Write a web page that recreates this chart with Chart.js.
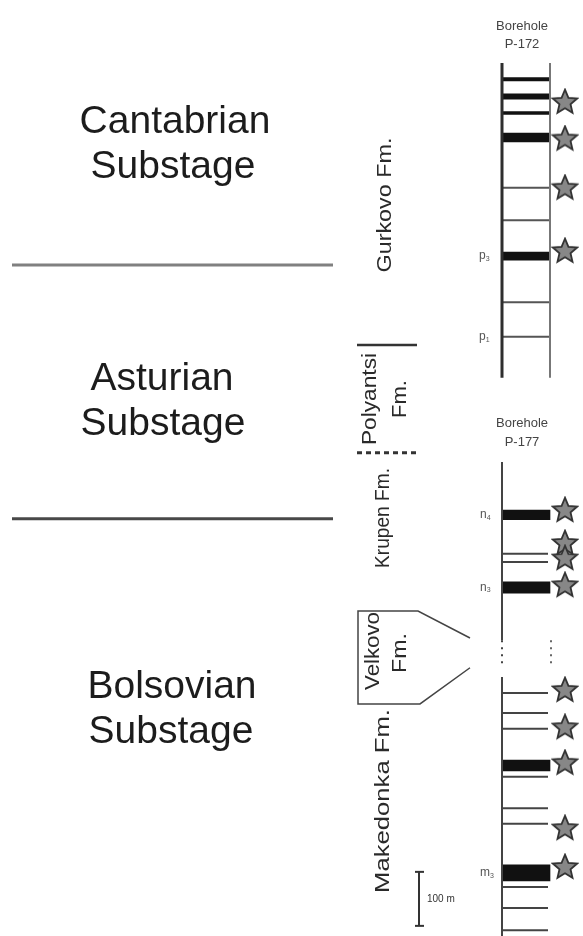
<!DOCTYPE html>
<html>
<head>
<meta charset="utf-8">
<title>Boreholes P-172 / P-177</title>
<script src="https://cdn.jsdelivr.net/npm/chart.js@4.4.0/dist/chart.umd.min.js"></script>
<style>
html, body { margin: 0; padding: 0; background: #fff; }
#wrap { position: relative; width: 583px; height: 936px; }
</style>
</head>
<body>
<div id="wrap"><canvas id="col"></canvas></div>
<script>
// depths in metres below the top of each borehole

// borehole P-172
var seams172 = [[27, 33], [57, 67], [90, 95], [130, 146], [350, 365]]; // coal seams top/base
var thin172 = [231, 291, 443, 507];                                      // thin seams
var stars172 = [72, 140, 231, 348];                                      // sampled levels
var markers172 = ['p3', 'p1'];
var markerDepth172 = [357, 507];
var base172 = 583;

// borehole P-177
var seams177 = [[89, 107], [222, 243], [552, 572], [746, 776]];
var thin177 = [170, 185, 428, 465, 494, 583, 641, 670, 787, 826, 867];
var stars177 = [89, 150, 178, 228, 422, 491, 557, 678, 750];
var markers177 = ['n4', 'n3', 'm3'];
var markerDepth177 = [98, 232, 761];
var gap177 = [330, 398];     // section not shown (Velkovo Fm.)
var base177 = 878;

// stage and formation limits
var stages = ['Cantabrian', 'Asturian', 'Bolsovian'];
var cantAstur172 = 374;      // limit read in P-172
var asturBols177 = 105;      // limit read in P-177
var formations = ['Gurkovo Fm.', 'Polyantsi Fm.', 'Krupen Fm.', 'Velkovo Fm.', 'Makedonka Fm.'];
var polyantsiTop172 = 522;
var polyantsiBase177 = -17;
var velkovo177 = [276, 448];
var scaleBar177 = [759, 859]; // 100 m

// layout
var W = 583, H = 936, PX_PER_M = 0.54;
var TOP172 = 63, TOP177 = 462;
var COL_L = 502, COL_R = 550, STAR_X = 565;
var FONT = '"Liberation Sans", Arial, sans-serif';

// star symbol
var starImg = document.createElement('canvas');
starImg.width = 28; starImg.height = 28;
(function () {
    var c = starImg.getContext('2d');
    c.beginPath();
    for (var i = 0; i < 10; i++) {
        var r = i % 2 === 0 ? 12.8 : 5.8;
        var a = -Math.PI / 2 + i * Math.PI / 5;
        var px = 14 + r * Math.cos(a), py = 14.5 + r * Math.sin(a);
        if (i === 0) c.moveTo(px, py); else c.lineTo(px, py);
    }
    c.closePath();
    c.fillStyle = '#878787';
    c.fill();
    c.lineWidth = 1.8;
    c.strokeStyle = '#333';
    c.stroke();
})();

function seg(axis, x0, x1, d0, d1, color, width, dash) {
    return {
        type: 'line', yAxisID: axis,
        data: [{ x: x0, y: d0 }, { x: x1, y: d1 }],
        borderColor: color, borderWidth: width, borderDash: dash || [],
        pointRadius: 0, fill: false, tension: 0
    };
}

function poly(axis, pts, color, width) {
    return {
        type: 'line', yAxisID: axis,
        data: pts.map(function (p) { return { x: p[0], y: p[1] }; }),
        borderColor: color, borderWidth: width,
        pointRadius: 0, fill: false, tension: 0
    };
}

var datasets = [];

// stage limits
datasets.push(seg('y172', 12, 333, cantAstur172, cantAstur172, '#808080', 3));
datasets.push(seg('y177', 12, 333, asturBols177, asturBols177, '#484848', 3));

// formation brackets
datasets.push(seg('y172', 357, 417, polyantsiTop172, polyantsiTop172, '#333', 2.5));
datasets.push(seg('y177', 357, 417, polyantsiBase177, polyantsiBase177, '#333', 3, [5, 4]));
datasets.push(poly('y177', [[470, gap177[0] - 4], [418, velkovo177[0]], [358, velkovo177[0]],
    [358, velkovo177[1]], [420, velkovo177[1]], [470, gap177[1] - 17]], '#444', 1.5));

// P-172 column
datasets.push(seg('y172', COL_L, COL_L, 0, base172, '#2e2e2e', 3));
datasets.push(seg('y172', COL_R, COL_R, 0, base172, '#777', 2));
thin172.forEach(function (d) {
    datasets.push(seg('y172', COL_L, COL_R, d, d, '#555', 2));
});
datasets.push({
    type: 'bar', yAxisID: 'y172', grouped: false, barThickness: COL_R - COL_L,
    data: seams172.map(function (s) { return { x: (COL_L + COL_R) / 2, y: s }; }),
    backgroundColor: '#111'
});

// P-177 column
datasets.push(seg('y177', COL_L, COL_L, 0, gap177[0], '#444', 2));
datasets.push(seg('y177', COL_L, COL_L, gap177[0], gap177[1] - 17, '#444', 2, [2, 5]));
datasets.push(seg('y177', COL_R + 1, COL_R + 1, gap177[0], gap177[1] - 17, '#666', 2, [2, 5]));
datasets.push(seg('y177', COL_L, COL_L, gap177[1], base177, '#444', 2));
thin177.forEach(function (d) {
    datasets.push(seg('y177', COL_L, COL_R - 2, d, d, '#444', 2));
});
datasets.push({
    type: 'bar', yAxisID: 'y177', grouped: false, barThickness: COL_R - COL_L,
    data: seams177.map(function (s) { return { x: (COL_L + COL_R) / 2, y: s }; }),
    backgroundColor: '#111'
});

// scale bar
datasets.push(seg('y177', 419, 419, scaleBar177[0], scaleBar177[1], '#333', 2));
datasets.push(seg('y177', 415, 424, scaleBar177[0], scaleBar177[0], '#333', 2));
datasets.push(seg('y177', 415, 424, scaleBar177[1], scaleBar177[1], '#333', 2));

// stars
datasets.push({
    type: 'scatter', yAxisID: 'y172',
    data: stars172.map(function (d) { return { x: STAR_X, y: d }; }),
    pointStyle: starImg, pointRadius: 13
});
datasets.push({
    type: 'scatter', yAxisID: 'y177',
    data: stars177.map(function (d) { return { x: STAR_X, y: d }; }),
    pointStyle: starImg, pointRadius: 13
});

function rotText(ctx, txt, cx, cy, size, len) {
    ctx.save();
    ctx.translate(cx, cy);
    ctx.rotate(-Math.PI / 2);
    ctx.font = size + 'px ' + FONT;
    var w = ctx.measureText(txt).width;
    if (len) ctx.scale(len / w, 1);
    ctx.textAlign = 'center';
    ctx.textBaseline = 'middle';
    ctx.fillText(txt, 0, 0);
    ctx.restore();
}

function marker(ctx, name, x, y) {
    ctx.font = '12px ' + FONT;
    ctx.textAlign = 'left';
    ctx.textBaseline = 'middle';
    ctx.fillText(name[0], x, y);
    var w = ctx.measureText(name[0]).width;
    ctx.font = '7px ' + FONT;
    ctx.fillText(name.slice(1), x + w, y + 3);
}

var labels = {
    id: 'labels',
    afterDraw: function (chart) {
        var ctx = chart.ctx;
        var y172 = chart.scales.y172, y177 = chart.scales.y177;
        ctx.save();

        // substages
        ctx.fillStyle = '#1c1c1c';
        ctx.font = '39px ' + FONT;
        ctx.textAlign = 'center';
        ctx.textBaseline = 'alphabetic';
        ctx.fillText(stages[0], 175, 133);
        ctx.fillText('Substage', 173, 178);
        ctx.fillText(stages[1], 162, 390);
        ctx.fillText('Substage', 163, 435);
        ctx.fillText(stages[2], 172, 698);
        ctx.fillText('Substage', 171, 743);

        // formations
        ctx.fillStyle = '#2a2a2a';
        rotText(ctx, formations[0], 385, 205, 21, 135);
        rotText(ctx, 'Polyantsi', 370, 399, 21, 92);
        rotText(ctx, 'Fm.', 400, 399, 20, 38);
        rotText(ctx, formations[2], 383, 518, 21, 100);
        rotText(ctx, 'Velkovo', 373, 651, 21, 78);
        rotText(ctx, 'Fm.', 400, 653, 20, 40);
        rotText(ctx, formations[4], 383, 801, 21, 184);

        // borehole titles
        ctx.fillStyle = '#444';
        ctx.font = '13px ' + FONT;
        ctx.textAlign = 'center';
        ctx.textBaseline = 'middle';
        ctx.fillText('Borehole', 522, 26);
        ctx.fillText('P-172', 522, 44);
        ctx.fillText('Borehole', 522, 423);
        ctx.fillText('P-177', 522, 442);

        // seam markers
        ctx.fillStyle = '#555';
        markers172.forEach(function (m, i) {
            marker(ctx, m, 479, y172.getPixelForValue(markerDepth172[i]));
        });
        markers177.forEach(function (m, i) {
            marker(ctx, m, 480, y177.getPixelForValue(markerDepth177[i]));
        });

        // scale bar text
        ctx.fillStyle = '#333';
        ctx.font = '10px ' + FONT;
        ctx.textAlign = 'left';
        ctx.fillText('100 m', 427, y177.getPixelForValue((scaleBar177[0] + scaleBar177[1]) / 2));

        ctx.restore();
    }
};

new Chart(document.getElementById('col'), {
    type: 'scatter',
    data: { datasets: datasets },
    options: {
        responsive: true,
        maintainAspectRatio: false,
        animation: false,
        events: [],
        layout: { padding: 0, autoPadding: false },
        plugins: { legend: { display: false }, tooltip: { enabled: false } },
        scales: {
            x: { type: 'linear', min: 0, max: W, offset: false, display: false },
            y172: {
                type: 'linear', reverse: true, display: false, offset: false, grace: 0,
                min: -TOP172 / PX_PER_M, max: (H - TOP172) / PX_PER_M
            },
            y177: {
                type: 'linear', reverse: true, display: false, offset: false, grace: 0,
                min: -TOP177 / PX_PER_M, max: (H - TOP177) / PX_PER_M
            }
        }
    },
    plugins: [labels]
});
</script>
</body>
</html>
